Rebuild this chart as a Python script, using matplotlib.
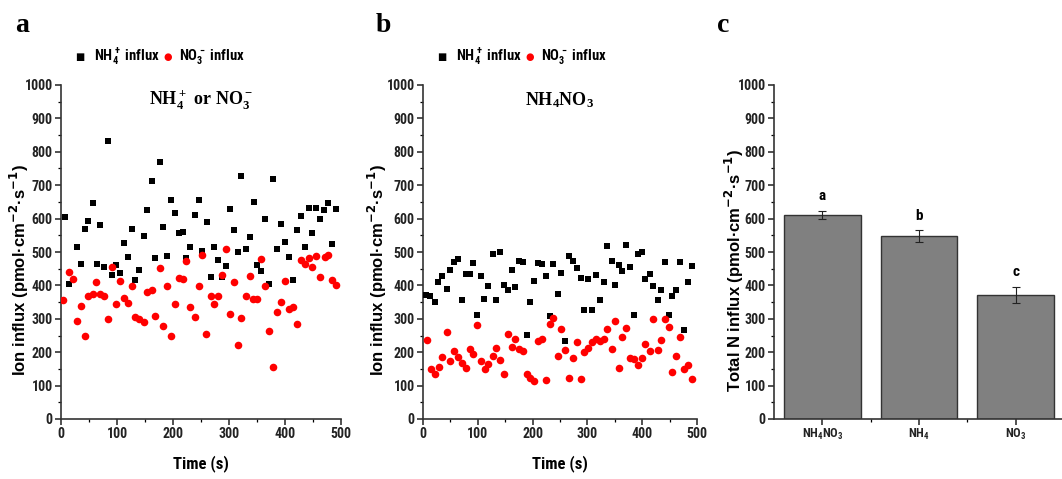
import numpy as np
import matplotlib
matplotlib.use('Agg')
import matplotlib.pyplot as plt
from matplotlib.ticker import MultipleLocator

# ---- data ----
# panel a: NH4+ or NO3- supplied separately
ta_nh4 = [7, 14, 28, 35, 42, 49, 57, 64, 70, 77, 84, 91, 98, 105, 112, 119, 126, 133, 140, 148,
          154, 162, 168, 176, 183, 189, 196, 203, 211, 217, 224, 231, 239, 246, 252, 260, 267, 274, 281, 287,
          295, 302, 309, 316, 322, 330, 337, 344, 350, 358, 365, 372, 379, 386, 393, 400, 407, 414, 421, 428,
          435, 442, 449, 456, 463, 470, 477, 484, 491]
va_nh4 = [605, 405, 516, 464, 568, 592, 647, 465, 582, 454, 831, 430, 461, 437, 527, 484, 570, 415, 447, 548,
          627, 714, 482, 768, 575, 487, 655, 617, 556, 561, 482, 515, 612, 655, 502, 589, 424, 514, 475, 424,
          457, 630, 567, 500, 729, 509, 545, 649, 462, 442, 599, 405, 719, 510, 585, 529, 485, 417, 567, 607,
          515, 633, 557, 633, 598, 627, 647, 525, 630]
ta_no3 = [4, 14, 21, 28, 35, 42, 49, 57, 63, 70, 77, 84, 91, 98, 105, 112, 119, 126, 133, 140,
          148, 154, 162, 168, 176, 183, 189, 196, 203, 211, 217, 224, 231, 239, 246, 252, 259, 267, 274, 281,
          287, 295, 302, 309, 316, 322, 330, 337, 343, 350, 358, 365, 372, 379, 386, 393, 400, 407, 414, 421,
          428, 435, 442, 449, 456, 463, 471, 477, 484, 491]
va_no3 = [355, 439, 419, 292, 339, 249, 367, 374, 409, 374, 369, 299, 454, 343, 414, 361, 348, 399, 304, 299,
          289, 379, 386, 309, 452, 277, 397, 249, 345, 422, 419, 472, 334, 305, 397, 490, 254, 367, 345, 369,
          432, 509, 315, 410, 222, 302, 367, 427, 360, 360, 479, 399, 262, 155, 321, 350, 414, 329, 334, 285,
          477, 464, 482, 456, 487, 425, 485, 492, 417, 402]

# panel b: NH4NO3
tb_nh4 = [6, 13, 21, 28, 35, 43, 49, 57, 63, 71, 78, 85, 92, 98, 105, 112, 119, 127, 134, 141,
          148, 155, 162, 168, 175, 182, 189, 196, 203, 210, 217, 224, 231, 238, 246, 252, 260, 266, 274, 281,
          288, 294, 302, 309, 316, 323, 330, 336, 344, 350, 358, 364, 371, 378, 385, 392, 400, 406, 414, 420,
          428, 434, 441, 448, 455, 462, 469, 476, 483, 490]
vb_nh4 = [370, 367, 349, 410, 427, 390, 447, 470, 479, 355, 434, 434, 467, 312, 429, 360, 397, 494, 355, 499,
          402, 387, 447, 395, 474, 470, 252, 349, 412, 467, 464, 427, 307, 464, 374, 437, 234, 487, 472, 452,
          422, 325, 419, 325, 432, 355, 410, 517, 474, 400, 460, 444, 520, 454, 312, 495, 499, 420, 434, 399,
          357, 387, 470, 312, 367, 387, 469, 267, 410, 459]
tb_no3 = [8, 14, 21, 29, 35, 43, 49, 57, 63, 71, 78, 85, 92, 98, 105, 113, 119, 127, 134, 141,
          148, 155, 162, 168, 175, 182, 189, 196, 203, 210, 217, 224, 231, 238, 246, 252, 260, 266, 274, 281,
          288, 294, 302, 309, 316, 323, 330, 336, 344, 350, 358, 364, 371, 378, 385, 392, 400, 406, 414, 420,
          428, 434, 441, 448, 455, 462, 469, 476, 483, 490]
vb_no3 = [237, 149, 134, 155, 187, 259, 175, 205, 187, 169, 152, 210, 194, 280, 175, 150, 164, 190, 212, 177,
          134, 254, 217, 239, 209, 204, 134, 122, 114, 234, 239, 117, 284, 302, 189, 270, 207, 122, 182, 232,
          119, 200, 212, 230, 239, 234, 240, 269, 210, 294, 154, 245, 272, 184, 180, 162, 184, 224, 204, 300,
          207, 237, 300, 275, 140, 189, 245, 150, 162, 119]

# panel c: total N influx
treatments = [r'NH$\mathregular{_4}$NO$\mathregular{_3}$', r'NH$\mathregular{_4}$', r'NO$\mathregular{_3}$']
total_n = [612, 548, 372]
total_err = [12, 17, 24]
sig_letters = ['a', 'b', 'c']

NARROW = ['Roboto Condensed', 'Archivo Narrow', 'Fira Sans Condensed', 'DejaVu Sans']
WIDE = ['Liberation Sans', 'DejaVu Sans']
SERIF = ['Liberation Serif', 'DejaVu Serif']

plt.rcParams['font.family'] = NARROW
plt.rcParams['font.weight'] = 'bold'
plt.rcParams['axes.linewidth'] = 1.2
plt.rcParams['axes.edgecolor'] = '#333333'

fig = plt.figure(figsize=(10.62, 4.79), dpi=100)
W, H = 1062.0, 479.0


def box(l, r, b=419, t=85):
    return [l / W, 1 - b / H, (r - l) / W, (b - t) / H]


def style(ax):
    for s in ['top', 'right']:
        ax.spines[s].set_visible(False)
    ax.set_ylim(0, 1000)
    ax.yaxis.set_major_locator(MultipleLocator(100))
    ax.yaxis.set_minor_locator(MultipleLocator(50))
    ax.tick_params(axis='both', which='major', direction='out', length=4, width=1.1,
                   labelsize=10, pad=2, colors='#222222')
    ax.tick_params(axis='both', which='minor', direction='out', length=2, width=0.9)
    for lab in ax.get_yticklabels() + ax.get_xticklabels():
        lab.set_fontweight('bold')


ylab = u'Ion influx (pmol\u00b7cm$^{-2}$\u00b7s$^{-1}$)'

panels = [
    ('a', box(61, 341), ta_nh4, va_nh4, ta_no3, va_no3,
     r'NH$\mathregular{_4^+}$ or NO$\mathregular{_3^-}$', 22, -0.107),
    ('b', box(423, 697), tb_nh4, vb_nh4, tb_no3, vb_no3,
     r'NH$\mathregular{_4}$NO$\mathregular{_3}$', 383, -0.124),
]

for letter, pos, tn, vn, to, vo, title, lx, ylx in panels:
    ax = fig.add_axes(pos)
    ax.scatter(tn, vn, marker='s', s=20, color='black', linewidths=0, zorder=3)
    ax.scatter(to, vo, marker='o', s=30, color='#ff0000', linewidths=0, zorder=3)
    ax.set_xlim(0, 500)
    ax.xaxis.set_major_locator(MultipleLocator(100))
    ax.xaxis.set_minor_locator(MultipleLocator(50))
    style(ax)
    ax.set_xlabel('Time (s)', fontsize=12, fontweight='bold', labelpad=10)
    ax.set_ylabel(ylab, family=WIDE, fontsize=12, fontweight='bold')
    ax.yaxis.set_label_coords(ylx, 0.446)
    ax.text(0.5, 0.955, title, transform=ax.transAxes, ha='center', va='center',
            family=SERIF, fontsize=13, fontweight='bold')
    fig.text(lx / W, 1 - 25 / H, letter, family=SERIF, fontsize=20, fontweight='bold',
             ha='center', va='center')
    # legend above the axes
    x0 = (pos[0] * W + 19) / W
    fig.text(x0, 1 - 57 / H, u'\u25a0', fontsize=7, ha='center', va='center', color='black',
             family=['DejaVu Sans'])
    fig.text(x0 + 14 / W, 1 - 57 / H, r'NH$\mathregular{_4^+}$ influx', fontsize=10.5,
             ha='left', va='center')
    fig.text(x0 + 88 / W, 1 - 57 / H, u'\u25cf', fontsize=7, ha='center', va='center', color='#ff0000',
             family=['DejaVu Sans'])
    fig.text(x0 + 99 / W, 1 - 57 / H, r'NO$\mathregular{_3^-}$ influx', fontsize=10.5,
             ha='left', va='center')

# panel c
axc = fig.add_axes(box(774, 1064))
xpos = np.arange(1, len(total_n) + 1)
axc.bar(xpos, total_n, width=0.79, color='#808080', edgecolor='#333333', linewidth=1.0, zorder=2)
axc.errorbar(xpos, total_n, yerr=total_err, fmt='none', ecolor='#222222', elinewidth=0.8,
             capsize=3, capthick=0.8, zorder=3)
for x, v, e, s in zip(xpos, total_n, total_err, sig_letters):
    axc.text(x, v + e + 22, s, ha='center', va='bottom', fontsize=11, fontweight='bold')
axc.set_xlim(0.5, 3.5)
axc.set_xticks(xpos)
axc.set_xticks([1.5, 2.5], minor=True)
axc.set_xticklabels(treatments)
style(axc)
axc.tick_params(axis='x', which='major', labelsize=9)
axc.set_ylabel(u'Total N influx (pmol\u00b7cm$^{-2}$\u00b7s$^{-1}$)',
               family=WIDE, fontsize=12, fontweight='bold')
axc.yaxis.set_label_coords(-0.097, 0.446)
fig.text(723 / W, 1 - 25 / H, 'c', family=SERIF, fontsize=20, fontweight='bold',
         ha='center', va='center')

fig.savefig('out.png', dpi=100)
